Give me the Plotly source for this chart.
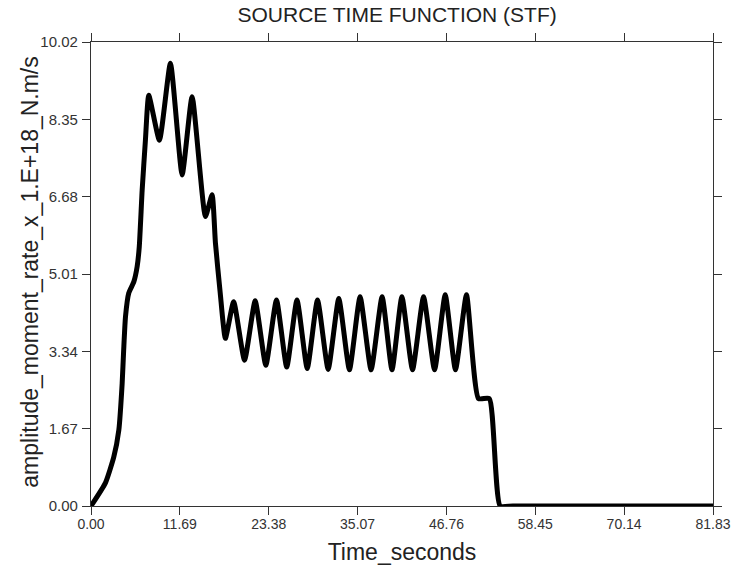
import plotly.graph_objects as go

# Source time function
time_s = [0.0, 1.9, 3.0, 3.66, 4.1, 4.3, 4.54, 4.97, 5.63, 6.07, 6.35, 6.73, 7.16, 7.6,
          9.0, 10.45, 11.99, 13.3, 15.05, 15.93, 16.37, 17.0, 17.68,
          18.77, 20.2, 21.6, 23.0, 24.4, 25.75, 27.1, 28.45, 29.8, 31.2, 32.6, 34.0,
          35.4, 36.85, 38.3, 39.6, 40.9, 42.3, 43.75, 45.2, 46.6, 47.95, 49.4,
          50.98, 52.4, 53.83, 55.5, 81.83]
amplitude = [0.0, 0.5, 1.06, 1.64, 2.65, 3.37, 4.09, 4.6, 4.84, 5.17, 5.6, 6.82, 7.9, 8.87,
             7.9, 9.56, 7.15, 8.84, 6.25, 6.72, 5.68, 4.6, 3.62,
             4.41, 3.15, 4.43, 3.04, 4.45, 3.0, 4.45, 2.97, 4.45, 2.95, 4.48, 2.94,
             4.52, 2.94, 4.52, 2.94, 4.52, 2.94, 4.52, 2.94, 4.56, 2.94, 4.56,
             2.32, 2.32, 0.0, 0.0, 0.0]

x_ticks = [0.00, 11.69, 23.38, 35.07, 46.76, 58.45, 70.14, 81.83]
y_ticks = [0.00, 1.67, 3.34, 5.01, 6.68, 8.35, 10.02]
x_labels = [f"{v:.2f}" for v in x_ticks]
y_labels = [f"{v:.2f}" for v in y_ticks]

FONT = "Liberation Sans, Arial, Helvetica"

fig = go.Figure()
fig.add_trace(go.Scatter(x=time_s, y=amplitude, mode="lines",
                         line=dict(color="black", width=5, shape="spline", smoothing=0.5),
                         showlegend=False))

axis_common = dict(showline=True, linecolor="#333", linewidth=1.2, mirror="ticks",
                   ticks="outside", ticklen=8, tickcolor="#333", tickwidth=1,
                   showgrid=False, zeroline=False, automargin=False)

fig.update_layout(
    width=734, height=568,
    margin=dict(l=91, r=21, t=42, b=62),
    paper_bgcolor="white", plot_bgcolor="white",
    title=dict(text="SOURCE TIME FUNCTION (STF)", x=0.541, xanchor="center",
               y=0.974, yanchor="middle",
               font=dict(family=FONT, size=21, color="#222")),
    xaxis=dict(range=[0, 81.83], tickvals=x_ticks, ticktext=x_labels,
               ticklabelstandoff=-3,
               tickfont=dict(family=FONT, size=14, color="#333"),
               title=dict(text="Time_seconds", standoff=12,
                          font=dict(family=FONT, size=23, color="#222")),
               **axis_common),
    yaxis=dict(range=[0, 10.02], tickvals=y_ticks, ticktext=y_labels,
               ticklabelstandoff=1,
               tickfont=dict(family=FONT, size=15, color="#333"),
               **axis_common),
    annotations=[dict(text="amplitude_moment_rate_x_1.E+18_N.m/s", textangle=-90,
                      xref="paper", yref="paper", x=-0.098, y=0.505,
                      xanchor="center", yanchor="middle", showarrow=False,
                      font=dict(family=FONT, size=23, color="#222"))],
)

fig.write_html("out.html", config={"displayModeBar": False},
               post_script="document.body.style.margin='0px';")
